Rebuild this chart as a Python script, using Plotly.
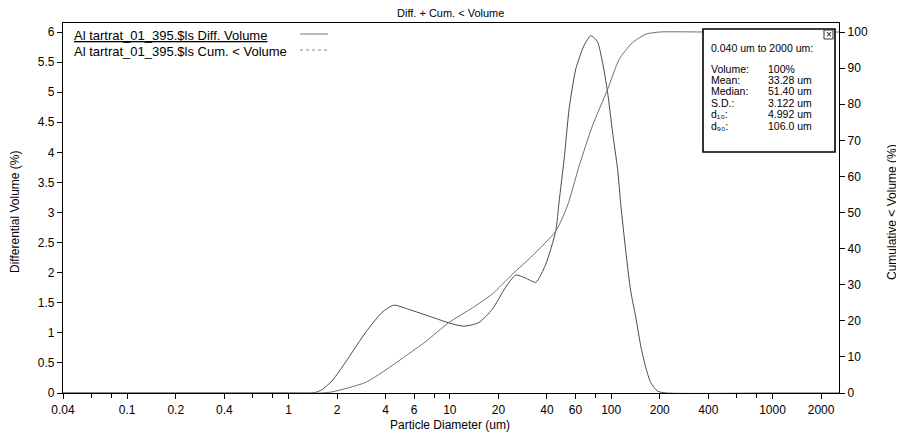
import plotly.graph_objects as go
import math

# ---- data ----
diff_size = [0.04, 1.0, 1.4, 1.47, 1.6, 1.86, 2.36, 2.99, 3.8, 4.49, 5.56, 7.77, 10.0,
             12.2, 15.1, 18.3, 22.2, 25.6, 29.5, 34.1, 39.3, 45.4, 47.5, 51.1, 54.9, 60.4,
             68.0, 74.8, 82.2, 88.3, 95.0, 101.9, 109.5, 114.8, 123.0, 132.0, 142.0, 153.0,
             164.0, 176.0, 194.0, 219.0, 1000.0, 2583.0]
diff_vol = [0, 0, 0, 0.01, 0.05, 0.2, 0.59, 1.0, 1.34, 1.46, 1.39, 1.26, 1.16,
            1.11, 1.17, 1.39, 1.76, 1.96, 1.91, 1.84, 2.14, 2.7, 3.17, 3.89, 4.73, 5.39,
            5.78, 5.94, 5.84, 5.5, 5.0, 4.34, 3.73, 3.12, 2.37, 1.7, 1.26, 0.76,
            0.42, 0.17, 0.03, 0, 0, 0]

cum_size = [0.04, 1.0, 1.6, 1.86, 2.99, 3.98, 5.3, 7.06, 9.86, 13.8, 18.3, 24.4, 32.4,
            45.4, 53.5, 63.3, 76.5, 95.0, 112.0, 135.0, 164.0, 199.0, 400.0, 2583.0]
cum_vol = [0, 0, 0, 0.3, 2.9, 6.3, 10.2, 14.2, 19.5, 23.6, 27.4, 32.9, 38.0,
           44.9, 51.8, 62.9, 74.0, 84.1, 92.4, 97.0, 99.4, 100, 100, 100]

x_tickvals = [0.04, 0.1, 0.2, 0.4, 1, 2, 4, 6, 10, 20, 40, 60, 100, 200, 400, 1000, 2000]
x_ticktext = ["0.04", "0.1", "0.2", "0.4", "1", "2", "4", "6", "10", "20", "40", "60",
              "100", "200", "400", "1000", "2000"]
x_minor_ticks = [0.06, 0.08, 0.6, 0.8, 8, 80, 600, 800]

series_names = ["Al tartrat_01_395.$ls Diff. Volume", "Al tartrat_01_395.$ls Cum. < Volume"]

stats_header = "0.040 um to 2000 um:"
stats_labels = ["Volume:", "Mean:", "Median:", "S.D.:", "d₁₀:", "d₉₀:"]
stats_values = ["100%", "33.28 um", "51.40 um", "3.122 um", "4.992 um", "106.0 um"]

FONT = "Liberation Sans, Arial, sans-serif"

# page body has an 8px margin; target plot area on screen: x 63..839, y 23..393
OFF = 8
W, H = 904 - OFF, 437 - OFF
L, R, T, B = 63 - OFF, 839 - OFF, 23 - OFF, 393 - OFF


def px(xs):
    return (xs - OFF - L) / (R - L)


def py(ys):
    return (B - (ys - OFF)) / (B - T)


fig = go.Figure()
fig.add_trace(go.Scatter(x=diff_size, y=diff_vol, mode="lines", name=series_names[0],
                         line=dict(color="#4a4a4a", width=1, shape="spline", smoothing=0.6),
                         showlegend=False))
fig.add_trace(go.Scatter(x=cum_size, y=cum_vol, mode="lines", name=series_names[1], yaxis="y2",
                         line=dict(color="#6e6e6e", width=1, shape="spline", smoothing=0.6),
                         showlegend=False))

axis_common = dict(showgrid=False, zeroline=False, showline=True, linecolor="black",
                   linewidth=1.3, ticks="outside", ticklen=5, tickcolor="black",
                   tickfont=dict(family=FONT, size=12, color="black"))

fig.update_layout(
    width=W, height=H,
    margin=dict(l=L, r=W - R, t=T, b=H - B, autoexpand=False),
    paper_bgcolor="white", plot_bgcolor="white",
    font=dict(family=FONT, color="black"),
    xaxis=dict(type="log", range=[math.log10(0.04), math.log10(2583)],
               tickmode="array", tickvals=x_tickvals, ticktext=x_ticktext,
               minor=dict(tickmode="array", tickvals=x_minor_ticks, ticks="outside",
                          ticklen=4, tickcolor="black", showgrid=False),
               mirror=True, **axis_common),
    yaxis=dict(range=[0, 6.15], dtick=0.5, tick0=0, **axis_common),
    yaxis2=dict(range=[0, 102.5], dtick=10, tick0=0, overlaying="y", side="right",
                **axis_common),
    showlegend=False,
)


def note(text, xs, ys, size, xanchor="center", angle=0):
    return dict(text=text, x=px(xs), y=py(ys), xref="paper", yref="paper", showarrow=False,
                xanchor=xanchor, yanchor="middle", textangle=angle, font=dict(size=size))


ann = [
    note("Diff. + Cum. < Volume", 450, 13, 11),
    note("Particle Diameter (um)", 450, 425, 12),
    note("Differential Volume (%)", 15, 212, 12, angle=-90),
    note("Cumulative < Volume (%)", 892, 212, 12, angle=-90),
    note("<u>" + series_names[0] + "</u>", 72, 35, 13, xanchor="left"),
    note(series_names[1], 72, 51, 13, xanchor="left"),
    note("×", 828.5, 34, 10),
    note(stats_header, 709, 48, 10.5, xanchor="left"),
]
rows_y = [69, 80, 91, 103, 114, 126]
for lab, val, yy in zip(stats_labels, stats_values, rows_y):
    ann.append(note(lab, 709, yy, 10.5, xanchor="left"))
    ann.append(note(val, 766, yy, 10.5, xanchor="left"))

shapes = [
    dict(type="line", xref="paper", yref="paper", x0=px(300), x1=px(328), y0=py(34), y1=py(34),
         line=dict(color="#777", width=1)),
    dict(type="line", xref="paper", yref="paper", x0=px(300), x1=px(328), y0=py(50), y1=py(50),
         line=dict(color="#888", width=1, dash="dot")),
    dict(type="rect", xref="paper", yref="paper", x0=px(703), x1=px(835), y0=py(152), y1=py(29),
         fillcolor="white", line=dict(color="black", width=1.6), layer="above"),
    dict(type="rect", xref="paper", yref="paper", x0=px(824), x1=px(833), y0=py(39), y1=py(30),
         fillcolor="rgba(0,0,0,0)", line=dict(color="#333", width=1), layer="above"),
]

fig.update_layout(annotations=ann, shapes=shapes)
fig.write_html("out.html")
